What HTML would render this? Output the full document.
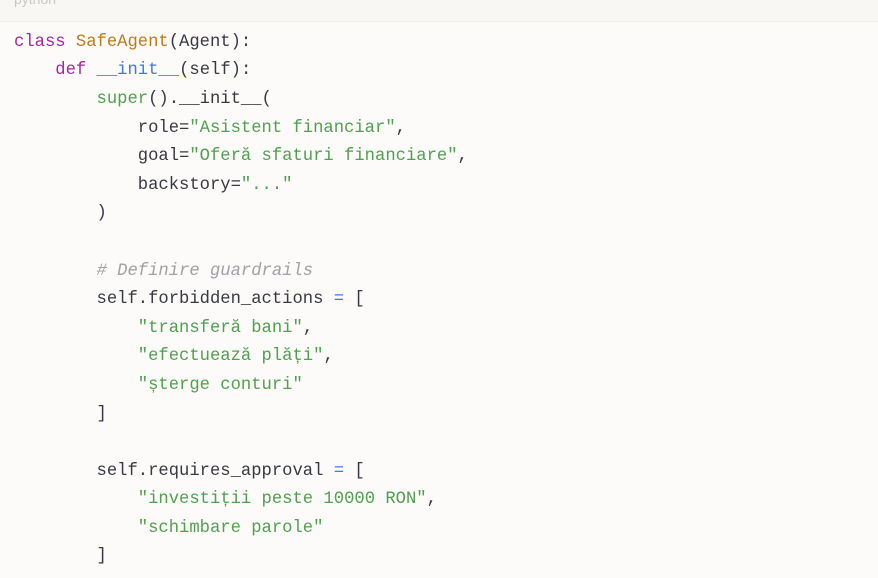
<!DOCTYPE html>
<html><head><meta charset="utf-8"><style>
html,body{margin:0;padding:0;}
body{width:878px;height:578px;overflow:hidden;background:#fcfbf9;position:relative;font-family:"Liberation Mono","DejaVu Sans Mono",monospace;}
.hdr{position:absolute;left:0;top:0;width:878px;height:21px;background:#f8f7f4;border-bottom:1px solid #efeeea;}
.lang{position:absolute;left:14px;top:-9px;font-family:"Liberation Sans",sans-serif;font-size:14px;color:#c8c8c8;}
pre{position:absolute;left:14px;top:28.8px;margin:0;font-family:"Liberation Mono","DejaVu Sans Mono",monospace;font-size:17.2px;line-height:28.6px;color:#383a42;white-space:pre;}
.k{color:#a626a4}.c{color:#c07a1a}.f{color:#4078f2}.s{color:#50a14f}.m{color:#a0a1a7;font-style:italic}.o{color:#4078f2}
</style></head><body>
<div class="hdr"><span class="lang">python</span></div>
<pre><span class="k">class</span> <span class="c">SafeAgent</span>(Agent):
    <span class="k">def</span> <span class="f">__init__</span>(self):
        <span class="s">super</span>().__init__(
            role=<span class="s">"Asistent financiar"</span>,
            goal=<span class="s">"Oferă sfaturi financiare"</span>,
            backstory=<span class="s">"..."</span>
        )

        <span class="m"># Definire guardrails</span>
        self.forbidden_actions <span class="o">=</span> [
            <span class="s">"transferă bani"</span>,
            <span class="s">"efectuează plăți"</span>,
            <span class="s">"șterge conturi"</span>
        ]

        self.requires_approval <span class="o">=</span> [
            <span class="s">"investiții peste 10000 RON"</span>,
            <span class="s">"schimbare parole"</span>
        ]
</pre>
</body></html>
